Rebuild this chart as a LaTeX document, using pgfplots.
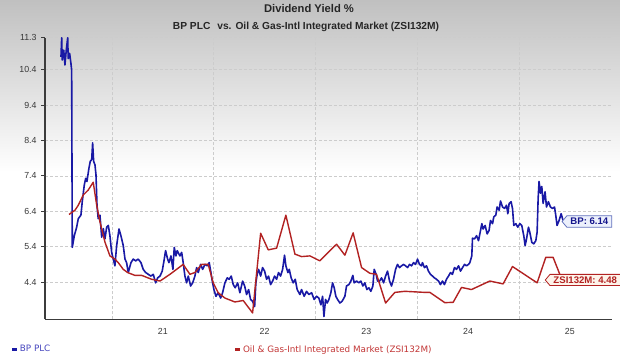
\documentclass[border=0pt]{standalone}
\usepackage{pgfplots}
\pgfplotsset{compat=1.18}
\usepackage{fontspec}
\setmainfont{Liberation Sans}
\newfontfamily\legfont{DejaVu Sans}
\usetikzlibrary{shapes.symbols}
\definecolor{bpblue}{RGB}{25,25,165}
\definecolor{zsired}{RGB}{178,34,34}
\definecolor{legblue}{RGB}{70,70,190}
\definecolor{legred}{RGB}{195,55,55}
\definecolor{ticktext}{RGB}{55,55,55}
\definecolor{axisgray}{RGB}{60,60,60}
\definecolor{topgray}{RGB}{192,192,192}
\definecolor{bpfill}{RGB}{236,240,252}
\definecolor{bpborder}{RGB}{100,115,190}
\definecolor{zsifill}{RGB}{253,243,234}
\begin{document}
\begin{tikzpicture}[x=1bp,y=1bp]
\useasboundingbox (0,0) rectangle (620,357);
\fill[white] (0,0) rectangle (620,357);
\shade[top color=topgray,bottom color=white] (0,185) rectangle (620,357);
\node[font=\bfseries\fontsize{11.2bp}{13bp}\selectfont,text=black!85] at (309,349) {Dividend Yield \%};
\node[font=\bfseries\fontsize{10.2bp}{12bp}\selectfont,text=black!85] at (306,330) {BP PLC\hspace{7bp}vs.\hspace{4bp}Oil \& Gas-Intl Integrated Market (ZSI132M)};
\begin{axis}[
  at={(45bp,37.7bp)}, anchor=south west,
  scale only axis, width=567bp, height=281.6bp,
  xmin=2020.342, xmax=2025.914, ymin=3.35, ymax=11.3,
  axis x line=bottom, axis y line=left,
  axis line style={-, draw=axisgray, line width=1.4bp},
  ytick={4.4,5.4,6.4,7.4,8.4,9.4,10.4,11.3},
  yticklabels={4.4,5.4,6.4,7.4,8.4,9.4,10.4,11.3},
  xtick={2021.5,2022.5,2023.5,2024.5,2025.5},
  xticklabels={21,22,23,24,25},
  minor xtick={2021,2022,2023,2024,2025},
  xminorgrids=true, ymajorgrids=true,
  grid style={densely dashed, gray!40, line width=0.6bp},
  minor grid style={densely dashed, gray!40, line width=0.6bp},
  major x tick style={draw=none}, minor x tick style={draw=none},
  y tick style={draw=axisgray, line width=0.8bp},
  tick align=outside, major tick length=4bp,
  tick label style={font=\fontsize{8.8bp}{10bp}\selectfont, text=ticktext},
  yticklabel style={xshift=-1bp},
  xticklabel style={yshift=-2bp},
  /pgf/number format/assume math mode=true,
  clip mode=individual,
  legend columns=2,
  legend style={at={(rel axis cs:-0.060,-0.107)}, anchor=west, draw=none, fill=none,
    font=\legfont\fontsize{8.8bp}{10bp}\selectfont, inner sep=0pt,
    /tikz/every even column/.append style={column sep=182bp}},
  legend image code/.code={\draw[#1,line width=2.2bp] (0bp,0bp) -- (4.5bp,0bp);},
]
\addplot[bpblue, line width=1.6bp, line join=round] coordinates {
(2020.499,10.76)(2020.506,11.30)(2020.511,10.67)(2020.526,10.95)(2020.538,10.53)(2020.551,10.95)
(2020.565,11.30)(2020.570,10.71)(2020.584,10.86)(2020.597,10.57)(2020.604,10.38)(2020.610,5.38)
(2020.630,5.71)(2020.653,5.95)(2020.669,6.19)(2020.695,6.29)(2020.708,6.67)(2020.728,7.14)
(2020.742,7.33)(2020.754,7.24)(2020.774,7.62)(2020.787,7.81)(2020.801,7.86)(2020.810,8.33)
(2020.820,7.81)(2020.833,7.71)(2020.843,7.43)(2020.853,6.57)(2020.865,6.19)(2020.882,6.29)
(2020.899,5.67)(2020.915,5.91)(2020.931,5.62)(2020.948,5.95)(2020.964,6.00)(2020.980,5.71)
(2020.997,5.24)(2021.013,5.05)(2021.029,4.86)(2021.046,5.43)(2021.069,5.90)(2021.088,5.71)
(2021.111,5.43)(2021.128,5.05)(2021.144,4.95)(2021.160,4.67)(2021.187,4.95)(2021.209,5.05)
(2021.233,5.00)(2021.258,5.05)(2021.285,4.95)(2021.307,4.76)(2021.331,4.67)(2021.357,4.62)
(2021.383,4.57)(2021.406,4.62)(2021.429,4.38)(2021.449,4.52)(2021.472,4.57)(2021.494,4.71)
(2021.514,5.05)(2021.527,5.29)(2021.547,5.05)(2021.560,4.95)(2021.580,5.14)(2021.599,4.76)
(2021.612,5.38)(2021.629,5.14)(2021.641,5.29)(2021.668,5.14)(2021.685,5.24)(2021.700,4.95)
(2021.717,4.57)(2021.734,4.38)(2021.750,4.57)(2021.773,4.29)(2021.793,4.38)(2021.815,4.57)
(2021.832,4.81)(2021.848,4.67)(2021.871,4.90)(2021.891,4.76)(2021.914,4.90)(2021.936,4.86)
(2021.956,4.95)(2021.970,4.71)(2021.989,4.38)(2022.002,4.19)(2022.022,4.00)(2022.044,4.10)
(2022.068,3.95)(2022.087,4.10)(2022.110,4.38)(2022.133,4.52)(2022.152,4.48)(2022.172,4.57)
(2022.192,4.33)(2022.211,4.24)(2022.235,4.38)(2022.257,4.10)(2022.284,4.43)(2022.304,4.29)
(2022.323,4.05)(2022.343,4.19)(2022.362,3.91)(2022.382,3.86)(2022.402,3.71)(2022.414,4.38)
(2022.427,4.62)(2022.441,4.76)(2022.461,4.57)(2022.480,4.81)(2022.500,4.71)(2022.520,4.48)
(2022.539,4.57)(2022.559,4.33)(2022.579,4.43)(2022.598,4.57)(2022.618,4.48)(2022.637,4.67)
(2022.657,4.57)(2022.677,4.76)(2022.696,5.16)(2022.709,4.86)(2022.729,4.67)(2022.742,4.76)
(2022.761,4.52)(2022.781,4.38)(2022.801,4.48)(2022.820,4.19)(2022.847,4.05)(2022.863,4.19)
(2022.889,4.00)(2022.912,4.14)(2022.935,4.05)(2022.962,4.10)(2022.987,3.91)(2023.011,4.00)
(2023.033,3.95)(2023.053,3.76)(2023.070,4.00)(2023.083,3.43)(2023.099,3.91)(2023.115,3.81)
(2023.132,3.91)(2023.151,4.10)(2023.168,4.38)(2023.184,4.24)(2023.200,4.00)(2023.217,3.91)
(2023.240,3.81)(2023.262,3.86)(2023.289,4.00)(2023.305,4.29)(2023.328,4.33)(2023.348,4.43)
(2023.367,4.59)(2023.380,4.38)(2023.404,4.43)(2023.426,4.38)(2023.446,4.43)(2023.466,4.29)
(2023.485,4.38)(2023.505,4.19)(2023.525,4.24)(2023.544,4.14)(2023.564,4.29)(2023.577,4.76)
(2023.596,4.62)(2023.610,4.43)(2023.630,4.43)(2023.649,4.52)(2023.669,4.38)(2023.689,4.57)
(2023.708,4.71)(2023.728,4.43)(2023.747,4.29)(2023.767,4.48)(2023.787,4.76)(2023.806,4.90)
(2023.826,4.81)(2023.846,4.86)(2023.865,4.90)(2023.885,4.86)(2023.905,4.81)(2023.924,4.90)
(2023.944,4.86)(2023.964,4.95)(2023.983,4.90)(2024.003,5.05)(2024.022,4.90)(2024.042,4.86)
(2024.051,4.95)(2024.071,4.81)(2024.091,4.86)(2024.110,4.71)(2024.130,4.62)(2024.150,4.57)
(2024.169,4.52)(2024.189,4.48)(2024.209,4.43)(2024.228,4.33)(2024.248,4.43)(2024.267,4.33)
(2024.287,4.48)(2024.307,4.57)(2024.327,4.67)(2024.346,4.62)(2024.366,4.81)(2024.386,4.76)
(2024.406,4.86)(2024.425,4.71)(2024.445,4.81)(2024.465,4.90)(2024.484,4.86)(2024.504,4.90)
(2024.517,4.95)(2024.536,5.14)(2024.543,5.64)(2024.563,5.62)(2024.583,5.71)(2024.602,5.57)
(2024.622,5.86)(2024.635,6.05)(2024.647,5.90)(2024.667,6.00)(2024.687,5.76)(2024.706,5.86)
(2024.720,6.14)(2024.740,6.05)(2024.752,6.24)(2024.772,6.29)(2024.785,6.52)(2024.805,6.43)
(2024.818,6.69)(2024.838,6.52)(2024.858,6.48)(2024.877,6.57)(2024.890,6.33)(2024.903,6.62)
(2024.922,6.67)(2024.936,6.48)(2024.949,6.00)(2024.969,6.05)(2024.988,5.95)(2025.008,6.05)
(2025.027,6.00)(2025.047,5.71)(2025.060,5.43)(2025.074,5.62)(2025.093,5.95)(2025.106,5.81)
(2025.126,5.52)(2025.145,5.48)(2025.165,5.57)(2025.178,5.81)(2025.188,6.76)(2025.197,7.24)
(2025.211,6.91)(2025.224,7.10)(2025.237,6.62)(2025.256,6.95)(2025.270,6.52)(2025.289,6.67)
(2025.309,6.52)(2025.329,6.48)(2025.349,6.52)(2025.361,6.29)(2025.374,6.00)(2025.394,6.14)
(2025.414,6.33)(2025.433,6.14)
};
\addlegendentry{\textcolor{legblue}{BP PLC}}
\addplot[zsired, line width=1.4bp, line join=round] coordinates {
(2020.578,6.31)(2020.637,6.43)(2020.669,6.57)(2020.718,6.86)(2020.767,7.00)(2020.816,7.22)
(2020.850,6.57)(2020.882,6.10)(2020.931,5.53)(2020.980,5.14)(2021.029,5.05)(2021.062,4.95)
(2021.111,4.76)(2021.154,4.67)(2021.226,4.59)(2021.292,4.59)(2021.390,4.48)(2021.472,4.43)
(2021.570,4.62)(2021.700,4.90)(2021.766,4.62)(2021.815,4.67)(2021.881,4.90)(2021.946,4.90)
(2021.995,4.38)(2022.044,4.10)(2022.110,3.95)(2022.208,3.84)(2022.290,3.88)(2022.382,3.53)
(2022.461,5.78)(2022.536,5.31)(2022.618,5.36)(2022.709,6.29)(2022.798,5.19)(2022.863,5.12)
(2022.945,5.14)(2023.043,5.00)(2023.125,5.24)(2023.207,5.47)(2023.289,5.16)(2023.370,5.79)
(2023.453,4.81)(2023.534,4.65)(2023.600,4.62)(2023.689,3.81)(2023.780,4.11)(2023.878,4.14)
(2024.075,4.11)(2024.124,4.11)(2024.271,3.82)(2024.353,3.83)(2024.435,4.25)(2024.533,4.19)
(2024.713,4.43)(2024.844,4.35)(2024.936,4.84)(2025.178,4.38)(2025.263,5.10)(2025.335,5.10)
(2025.394,4.67)(2025.420,4.48)
};
\addlegendentry{\textcolor{legred}{Oil \& Gas-Intl Integrated Market (ZSI132M)}}
\node[shape=signal, signal to=west, signal pointer angle=100, fill=bpfill, draw=bpborder, line width=0.8bp,
  text=bpblue!85!black, font=\bfseries\fontsize{9.6bp}{11bp}\selectfont, inner sep=2.4bp, inner xsep=3.5bp,
  anchor=west] at (axis cs:2025.418,6.11) {BP: 6.14};
\node[shape=signal, signal to=west, signal pointer angle=100, fill=zsifill, draw=zsired, line width=0.8bp,
  text=zsired, font=\bfseries\fontsize{9.6bp}{11bp}\selectfont, inner sep=2.2bp, inner xsep=3.5bp,
  anchor=west] at (axis cs:2025.253,4.46) {ZSI132M: 4.48};
\end{axis}
\end{tikzpicture}
\end{document}
